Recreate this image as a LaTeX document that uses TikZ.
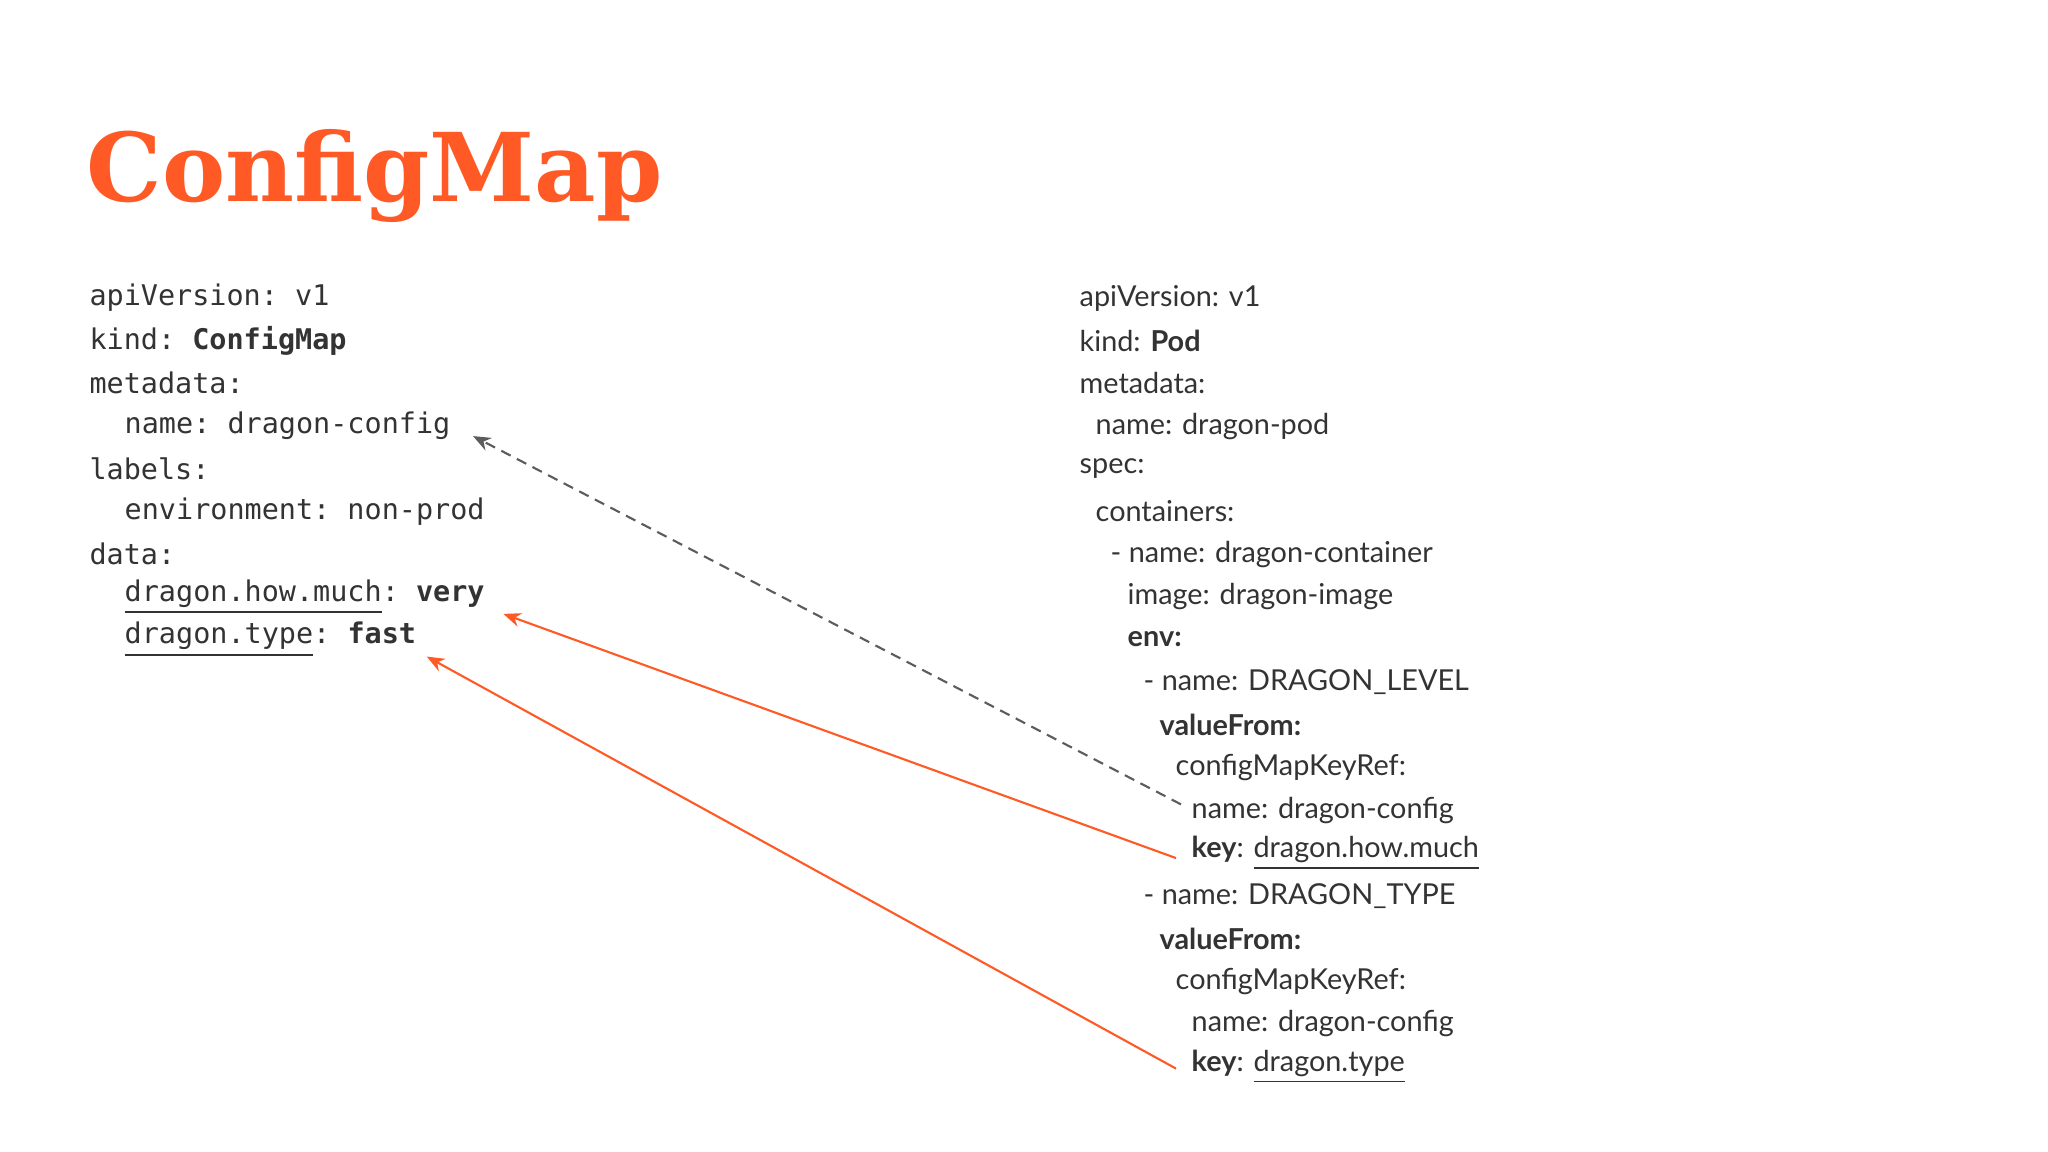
\documentclass[tikz,border=0pt]{standalone}
\usepackage{fontspec}
\setmainfont{Lato}
\setmonofont{DejaVu Sans Mono}
\newfontfamily\titlefont{DejaVu Serif}
\usetikzlibrary{arrows.meta}
\definecolor{orng}{HTML}{FF5A26}
\definecolor{txt}{HTML}{333333}
\begin{document}
\begin{tikzpicture}[x=1cm,y=1cm,
  mono/.style={anchor=west,inner sep=0pt,text=txt,font=\ttfamily\fontsize{8.1}{10}\selectfont},
  sans/.style={anchor=west,inner sep=0pt,text=txt,font=\fontsize{8.2}{10}\selectfont},
  link/.style={-{Stealth[length=5pt,width=4pt]},line width=0.6pt}]
\fill[white] (0,0) rectangle (20.48,11.52);
\useasboundingbox (0,0) rectangle (20.48,11.52);
\node[anchor=base west,inner sep=0pt,text=orng,font=\titlefont\bfseries\fontsize{27}{30}\selectfont] (title) at (0.86,9.5) {ConfigMap};
\def\L#1{(8.54-0.427*#1)}
% left
\node[mono] (l0) at (0.888,8.54) {apiVersion: v1};
\node[mono] (l1) at (0.888,8.113) {kind: \textbf{ConfigMap}};
\node[mono] (l2) at (0.888,7.686) {metadata:};
\node[mono] (l3) at (1.24,7.259) {name: dragon-config};
\node[mono] (l4) at (0.888,6.832) {labels:};
\node[mono] (l5) at (1.24,6.405) {environment: non-prod};
\node[mono] (l6) at (0.888,5.978) {data:};
\node[mono] (l7) at (1.24,5.551) {\underline{dragon.how.much}: \textbf{very}};
\node[mono] (l8) at (1.24,5.124) {\underline{dragon.type}: \textbf{fast}};
% right
\node[sans] (r0) at (10.79,8.54) {apiVersion: v1};
\node[sans] (r1) at (10.79,8.113) {kind: \textbf{Pod}};
\node[sans] (r2) at (10.79,7.686) {metadata:};
\node[sans] (r3) at (10.95,7.259) {name: dragon-pod};
\node[sans] (r4) at (10.79,6.832) {spec:};
\node[sans] (r5) at (10.95,6.405) {containers:};
\node[sans] (r6) at (11.10,5.978) {- name: dragon-container};
\node[sans] (r7) at (11.27,5.551) {image: dragon-image};
\node[sans] (r8) at (11.27,5.124) {\textbf{env:}};
\node[sans] (r9) at (11.43,4.697) {- name: DRAGON\_LEVEL};
\node[sans] (r10) at (11.59,4.270) {\textbf{valueFrom:}};
\node[sans] (r11) at (11.75,3.843) {configMapKeyRef:};
\node[sans] (r12) at (11.91,3.416) {name: dragon-config};
\node[sans] (r13) at (11.91,2.989) {\textbf{key}: \underline{dragon.how.much}};
\node[sans] (r14) at (11.43,2.562) {- name: DRAGON\_TYPE};
\node[sans] (r15) at (11.59,2.135) {\textbf{valueFrom:}};
\node[sans] (r16) at (11.75,1.708) {configMapKeyRef:};
\node[sans] (r17) at (11.91,1.281) {name: dragon-config};
\node[sans] (r18) at (11.91,0.854) {\textbf{key}: \underline{dragon.type}};
% arrows
\draw[link,dashed,draw=txt!80,dash pattern=on 3pt off 2pt] ([xshift=-0.1cm,yshift=0.06cm]r12.west) -- ([xshift=0.22cm,yshift=-0.1cm]l3.east);
\draw[link,orng] ([xshift=-0.15cm,yshift=-0.05cm]r13.west) -- ([xshift=0.18cm,yshift=-0.17cm]l7.east);
\draw[link,orng] ([xshift=-0.15cm,yshift=-0.02cm]r18.west) -- ([xshift=0.1cm,yshift=-0.17cm]l8.east);
\end{tikzpicture}
\end{document}
